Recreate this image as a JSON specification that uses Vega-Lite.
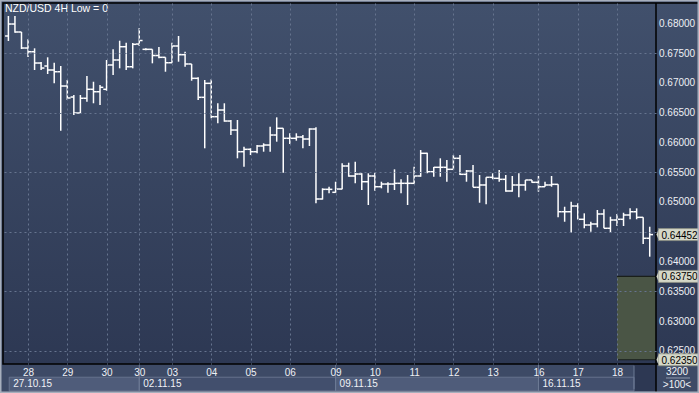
{
  "$schema": "https://vega.github.io/schema/vega-lite/v6.json",
  "width": 653,
  "height": 361,
  "autosize": {"type": "none"},
  "padding": {"left": 3, "top": 3, "right": 43, "bottom": 29},
  "background": "#3d4a66",
  "config": {
    "view": {"stroke": null},
    "axis": {
      "grid": true, "gridColor": "#66748f", "gridDash": [2, 3], "gridWidth": 1,
      "ticks": false, "tickSize": 0, "domain": false,
      "labelColor": "#eef0f5", "labelFont": "Liberation Sans", "labelFontSize": 10,
      "labelPadding": 3, "labelOverlap": false, "labelBound": false, "labelFlush": false,
      "zindex": 1
    },
    "axisX": {"labelAngle": 0},
    "text": {"font": "Liberation Sans"}
  },
  "datasets": {
    "bars": [
      {"i":0,"o":0.67787,"h":0.68123,"l":0.67703,"c":0.67988},
      {"i":1,"o":0.67988,"h":0.68123,"l":0.67842,"c":0.67854},
      {"i":2,"o":0.67854,"h":0.67854,"l":0.67568,"c":0.67585},
      {"i":3,"o":0.67585,"h":0.67731,"l":0.67434,"c":0.67523},
      {"i":4,"o":0.67523,"h":0.67580,"l":0.67216,"c":0.67333},
      {"i":5,"o":0.67333,"h":0.67350,"l":0.67216,"c":0.67249},
      {"i":6,"o":0.67283,"h":0.67429,"l":0.67149,"c":0.67216},
      {"i":7,"o":0.67216,"h":0.67338,"l":0.66992,"c":0.67187},
      {"i":8,"o":0.67187,"h":0.67283,"l":0.66196,"c":0.66947},
      {"i":9,"o":0.66947,"h":0.67048,"l":0.66712,"c":0.66746},
      {"i":10,"o":0.66762,"h":0.66796,"l":0.66460,"c":0.66494},
      {"i":11,"o":0.66494,"h":0.66796,"l":0.66477,"c":0.66741},
      {"i":12,"o":0.66741,"h":0.67115,"l":0.66683,"c":0.66892},
      {"i":13,"o":0.66892,"h":0.67019,"l":0.66657,"c":0.66851},
      {"i":14,"o":0.66851,"h":0.66964,"l":0.66628,"c":0.66925},
      {"i":15,"o":0.66892,"h":0.67384,"l":0.66868,"c":0.67300},
      {"i":16,"o":0.67300,"h":0.67563,"l":0.67132,"c":0.67384},
      {"i":17,"o":0.67384,"h":0.67708,"l":0.67244,"c":0.67607},
      {"i":18,"o":0.67607,"h":0.67674,"l":0.67216,"c":0.67271},
      {"i":19,"o":0.67271,"h":0.67669,"l":0.67244,"c":0.67647},
      {"i":20,"o":0.67652,"h":0.67921,"l":0.67619,"c":0.67711},
      {"i":21,"o":0.67563,"h":0.67580,"l":0.67547,"c":0.67563},
      {"i":22,"o":0.67563,"h":0.67563,"l":0.67328,"c":0.67459},
      {"i":23,"o":0.67459,"h":0.67602,"l":0.67412,"c":0.67429},
      {"i":24,"o":0.67429,"h":0.67429,"l":0.67187,"c":0.67338},
      {"i":25,"o":0.67338,"h":0.67674,"l":0.67338,"c":0.67619},
      {"i":26,"o":0.67619,"h":0.67787,"l":0.67355,"c":0.67473},
      {"i":27,"o":0.67473,"h":0.67523,"l":0.67271,"c":0.67317},
      {"i":28,"o":0.67317,"h":0.67317,"l":0.67036,"c":0.67076},
      {"i":29,"o":0.67076,"h":0.67093,"l":0.66712,"c":0.66757},
      {"i":30,"o":0.66757,"h":0.67048,"l":0.65901,"c":0.66992},
      {"i":31,"o":0.66992,"h":0.67060,"l":0.66405,"c":0.66432},
      {"i":32,"o":0.66432,"h":0.66657,"l":0.66321,"c":0.66544},
      {"i":33,"o":0.66544,"h":0.66657,"l":0.66348,"c":0.66359},
      {"i":34,"o":0.66359,"h":0.66376,"l":0.66124,"c":0.66208},
      {"i":35,"o":0.66208,"h":0.66376,"l":0.65733,"c":0.65844},
      {"i":36,"o":0.65844,"h":0.65928,"l":0.65592,"c":0.65884},
      {"i":37,"o":0.65884,"h":0.65901,"l":0.65788,"c":0.65844},
      {"i":38,"o":0.65844,"h":0.65956,"l":0.65817,"c":0.65940},
      {"i":39,"o":0.65940,"h":0.65985,"l":0.65844,"c":0.65956},
      {"i":40,"o":0.65956,"h":0.66264,"l":0.65844,"c":0.66124},
      {"i":41,"o":0.66124,"h":0.66421,"l":0.66012,"c":0.66237},
      {"i":42,"o":0.66237,"h":0.66237,"l":0.65491,"c":0.66069},
      {"i":43,"o":0.66069,"h":0.66153,"l":0.65973,"c":0.66069},
      {"i":44,"o":0.66069,"h":0.66153,"l":0.66029,"c":0.66091},
      {"i":45,"o":0.66091,"h":0.66124,"l":0.65901,"c":0.66057},
      {"i":46,"o":0.66057,"h":0.66237,"l":0.65940,"c":0.66225},
      {"i":47,"o":0.66225,"h":0.66254,"l":0.64977,"c":0.65050},
      {"i":48,"o":0.65050,"h":0.65229,"l":0.65041,"c":0.65212},
      {"i":49,"o":0.65212,"h":0.65256,"l":0.65145,"c":0.65212},
      {"i":50,"o":0.65162,"h":0.65340,"l":0.65155,"c":0.65217},
      {"i":51,"o":0.65217,"h":0.65649,"l":0.65212,"c":0.65604},
      {"i":52,"o":0.65604,"h":0.65659,"l":0.65424,"c":0.65436},
      {"i":53,"o":0.65436,"h":0.65676,"l":0.65313,"c":0.65469},
      {"i":54,"o":0.65469,"h":0.65481,"l":0.65201,"c":0.65340},
      {"i":55,"o":0.65340,"h":0.65481,"l":0.64949,"c":0.65436},
      {"i":56,"o":0.65436,"h":0.65491,"l":0.65189,"c":0.65256},
      {"i":57,"o":0.65256,"h":0.65340,"l":0.65229,"c":0.65301},
      {"i":58,"o":0.65301,"h":0.65330,"l":0.65155,"c":0.65301},
      {"i":59,"o":0.65301,"h":0.65548,"l":0.65201,"c":0.65313},
      {"i":60,"o":0.65313,"h":0.65380,"l":0.65145,"c":0.65313},
      {"i":61,"o":0.65313,"h":0.65453,"l":0.64949,"c":0.65313},
      {"i":62,"o":0.65313,"h":0.65592,"l":0.65301,"c":0.65436},
      {"i":63,"o":0.65436,"h":0.65872,"l":0.65424,"c":0.65817},
      {"i":64,"o":0.65817,"h":0.65827,"l":0.65481,"c":0.65508},
      {"i":65,"o":0.65508,"h":0.65587,"l":0.65424,"c":0.65582},
      {"i":66,"o":0.65582,"h":0.65733,"l":0.65424,"c":0.65582},
      {"i":67,"o":0.65582,"h":0.65704,"l":0.65340,"c":0.65548},
      {"i":68,"o":0.65548,"h":0.65788,"l":0.65537,"c":0.65733},
      {"i":69,"o":0.65733,"h":0.65788,"l":0.65453,"c":0.65464},
      {"i":70,"o":0.65464,"h":0.65537,"l":0.65340,"c":0.65520},
      {"i":71,"o":0.65520,"h":0.65621,"l":0.65246,"c":0.65246},
      {"i":72,"o":0.65246,"h":0.65453,"l":0.64987,"c":0.65285},
      {"i":73,"o":0.65285,"h":0.65414,"l":0.64961,"c":0.65414},
      {"i":74,"o":0.65414,"h":0.65481,"l":0.65380,"c":0.65397},
      {"i":75,"o":0.65397,"h":0.65537,"l":0.65340,"c":0.65380},
      {"i":76,"o":0.65380,"h":0.65453,"l":0.65172,"c":0.65184},
      {"i":77,"o":0.65184,"h":0.65436,"l":0.65172,"c":0.65285},
      {"i":78,"o":0.65285,"h":0.65481,"l":0.65078,"c":0.65285},
      {"i":79,"o":0.65285,"h":0.65369,"l":0.65189,"c":0.65369},
      {"i":80,"o":0.65369,"h":0.65369,"l":0.65323,"c":0.65330},
      {"i":81,"o":0.65330,"h":0.65436,"l":0.65172,"c":0.65256},
      {"i":82,"o":0.65256,"h":0.65340,"l":0.65256,"c":0.65285},
      {"i":83,"o":0.65285,"h":0.65436,"l":0.65256,"c":0.65296},
      {"i":84,"o":0.65296,"h":0.65296,"l":0.64742,"c":0.64836},
      {"i":85,"o":0.64836,"h":0.64920,"l":0.64668,"c":0.64836},
      {"i":86,"o":0.64836,"h":0.65004,"l":0.64484,"c":0.64932},
      {"i":87,"o":0.64932,"h":0.64977,"l":0.64709,"c":0.64709},
      {"i":88,"o":0.64709,"h":0.64809,"l":0.64558,"c":0.64613},
      {"i":89,"o":0.64613,"h":0.64668,"l":0.64500,"c":0.64630},
      {"i":90,"o":0.64630,"h":0.64865,"l":0.64574,"c":0.64798},
      {"i":91,"o":0.64798,"h":0.64877,"l":0.64558,"c":0.64558},
      {"i":92,"o":0.64558,"h":0.64752,"l":0.64484,"c":0.64697},
      {"i":93,"o":0.64697,"h":0.64798,"l":0.64596,"c":0.64709},
      {"i":94,"o":0.64709,"h":0.64819,"l":0.64596,"c":0.64781},
      {"i":95,"o":0.64781,"h":0.64893,"l":0.64709,"c":0.64836},
      {"i":96,"o":0.64836,"h":0.64893,"l":0.64709,"c":0.64742},
      {"i":97,"o":0.64742,"h":0.64742,"l":0.64294,"c":0.64390},
      {"i":98,"o":0.64390,"h":0.64584,"l":0.64081,"c":0.64452}
    ],
    "levels": [
      {"p": 0.625}, {"p": 0.63}, {"p": 0.635}, {"p": 0.64}, {"p": 0.65},
      {"p": 0.655}, {"p": 0.66}, {"p": 0.665}, {"p": 0.67}, {"p": 0.675}, {"p": 0.68}
    ],
    "zone": [{"start": 93, "top": 0.6375, "bottom": 0.6235}],
    "weeks": [
      {"s": 0.13, "e": 20, "label": "27.10.15"},
      {"s": 20, "e": 50, "label": "02.11.15"},
      {"s": 50, "e": 81, "label": "09.11.15"},
      {"s": 81, "e": 95.6, "label": "16.11.15"}
    ],
    "badges": [{"v": 0.64452}, {"v": 0.6375}, {"v": 0.6235}]
  },
  "layer": [
    {
      "data": {"values": [{}]},
      "mark": {"type": "rect", "fill": {"gradient": "linear", "x1": 0, "y1": 0, "x2": 0, "y2": 1, "stops": [{"offset": 0, "color": "#41506c"}, {"offset": 1, "color": "#2d3853"}]}},
      "encoding": {
        "x": {"datum": -0.825, "type": "quantitative"}, "x2": {"datum": 105.6},
        "y": {"datum": 0.68341, "type": "quantitative"}, "y2": {"datum": 0.62279}
      }
    },
    {
      "data": {"name": "zone"},
      "mark": {"type": "rect", "color": "#4a5545", "opacity": 1},
      "encoding": {
        "x": {"field": "start", "type": "quantitative"}, "x2": {"datum": 98.96},
        "y": {"field": "top", "type": "quantitative"}, "y2": {"field": "bottom"}
      }
    },
    {
      "data": {"name": "zone"},
      "mark": {"type": "rule", "color": "#1a1f1a", "strokeWidth": 1.2},
      "encoding": {
        "x": {"field": "start", "type": "quantitative"}, "x2": {"datum": 98.96},
        "y": {"field": "top", "type": "quantitative"}
      }
    },
    {
      "data": {"name": "zone"},
      "mark": {"type": "rule", "color": "#1a1f1a", "strokeWidth": 1.2},
      "encoding": {
        "x": {"field": "start", "type": "quantitative"}, "x2": {"datum": 98.96},
        "y": {"field": "bottom", "type": "quantitative"}
      }
    },
    {
      "data": {"name": "bars"},
      "mark": {"type": "rule", "color": "#ffffff", "strokeWidth": 1.5},
      "encoding": {
        "x": {
          "field": "i", "type": "quantitative",
          "scale": {"domain": [-0.825, 98.96], "nice": false, "zero": false},
          "axis": {
            "title": null, "zindex": 2, "grid": true,
            "labelOverlap": false, "labelFlush": false, "labelBound": false,
            "values": [3, 9, 15, 20, 25, 31, 37, 43, 50, 56, 62, 68, 74, 81, 87, 93],
            "labelExpr": "['28','29','30','30','03','04','05','06','09','10','11','12','13','16','17','18'][indexof([3,9,15,20,25,31,37,43,50,56,62,68,74,81,87,93], datum.value)]"
          }
        },
        "y": {
          "field": "h", "type": "quantitative",
          "scale": {"domain": [0.62279, 0.68341], "nice": false, "zero": false},
          "axis": {
            "title": null, "orient": "right", "zindex": 2, "grid": true, "labels": false,
            "values": [0.625, 0.63, 0.635, 0.64, 0.645, 0.65, 0.655, 0.66, 0.665, 0.67, 0.675, 0.68]
          }
        },
        "y2": {"field": "l"}
      }
    },
    {
      "data": {"name": "bars"},
      "mark": {"type": "rule", "color": "#ffffff", "strokeWidth": 1.5, "xOffset": -3.3},
      "encoding": {
        "x": {"field": "i", "type": "quantitative"}, "x2": {"field": "i"},
        "y": {"field": "o", "type": "quantitative"}
      }
    },
    {
      "data": {"name": "bars"},
      "mark": {"type": "rule", "color": "#ffffff", "strokeWidth": 1.5, "x2Offset": 3.3},
      "encoding": {
        "x": {"field": "i", "type": "quantitative"}, "x2": {"field": "i"},
        "y": {"field": "c", "type": "quantitative"}
      }
    },
    {
      "data": {"name": "levels"},
      "mark": {"type": "text", "align": "left", "baseline": "middle", "dx": 3, "dy": 0.5, "fontSize": 10, "color": "#eef0f5"},
      "encoding": {
        "x": {"datum": 98.96, "type": "quantitative"},
        "y": {"field": "p", "type": "quantitative"},
        "text": {"field": "p", "type": "quantitative", "format": ".5f"}
      }
    },
    {
      "data": {"values": [{}]},
      "mark": {"type": "rect", "color": "#2d3853"},
      "encoding": {
        "x": {"datum": 95.6, "type": "quantitative"}, "x2": {"datum": 98.96},
        "y": {"datum": 0.62279, "type": "quantitative"}, "y2": {"datum": 0.61826}
      }
    },
    {
      "data": {"name": "weeks"},
      "mark": {"type": "rect", "stroke": "#66728e", "strokeWidth": 1},
      "encoding": {
        "x": {"field": "s", "type": "quantitative"}, "x2": {"field": "e"},
        "y": {"datum": 0.62057, "type": "quantitative"}, "y2": {"datum": 0.61826},
        "color": {"field": "label", "type": "nominal", "legend": null,
          "scale": {"domain": ["27.10.15", "02.11.15", "09.11.15", "16.11.15"], "range": ["#4f5c7a", "#424f6d", "#4f5c7a", "#424f6d"]}}
      }
    },
    {
      "data": {"name": "weeks"},
      "transform": [{"filter": "datum.s > 1"}],
      "mark": {"type": "rule", "color": "#6d7a95", "strokeWidth": 1},
      "encoding": {
        "x": {"field": "s", "type": "quantitative"},
        "y": {"datum": 0.62279, "type": "quantitative"}, "y2": {"datum": 0.61826}
      }
    },
    {
      "data": {"values": [{}]},
      "mark": {"type": "rule", "color": "#6d7a95", "strokeWidth": 1},
      "encoding": {
        "x": {"datum": 95.6, "type": "quantitative"},
        "y": {"datum": 0.62252, "type": "quantitative"}, "y2": {"datum": 0.61860}
      }
    },
    {
      "data": {"name": "weeks"},
      "mark": {"type": "text", "align": "left", "baseline": "alphabetic", "dx": 4, "fontSize": 10, "color": "#f0f2f6"},
      "encoding": {
        "x": {"field": "s", "type": "quantitative"},
        "y": {"datum": 0.61888, "type": "quantitative"},
        "text": {"field": "label"}
      }
    },
    {
      "data": {"values": [{}]},
      "mark": {"type": "text", "text": "3200", "align": "center", "baseline": "alphabetic", "fontSize": 10, "color": "#f0f2f6"},
      "encoding": {
        "x": {"datum": 102.17, "type": "quantitative"},
        "y": {"datum": 0.62094, "type": "quantitative"}
      }
    },
    {
      "data": {"values": [{}]},
      "mark": {"type": "text", "text": ">100<", "align": "center", "baseline": "alphabetic", "fontSize": 10, "color": "#f0f2f6"},
      "encoding": {
        "x": {"datum": 102.17, "type": "quantitative"},
        "y": {"datum": 0.61881, "type": "quantitative"}
      }
    },
    {
      "data": {"values": [{}]},
      "mark": {"type": "rule", "color": "#8f99ad", "strokeWidth": 1},
      "encoding": {
        "x": {"datum": 100.49, "type": "quantitative"}, "x2": {"datum": 104.16},
        "y": {"datum": 0.62044, "type": "quantitative"}
      }
    },
    {
      "data": {"values": [{}]},
      "mark": {"type": "rect", "fill": "transparent", "stroke": "#000000", "strokeWidth": 1.5},
      "encoding": {
        "x": {"datum": -0.825, "type": "quantitative"}, "x2": {"datum": 105.6},
        "y": {"datum": 0.68341, "type": "quantitative"}, "y2": {"datum": 0.62279}
      }
    },
    {
      "data": {"values": [{}]},
      "mark": {"type": "rule", "color": "#000000", "strokeWidth": 1.5},
      "encoding": {
        "x": {"datum": 98.96, "type": "quantitative"},
        "y": {"datum": 0.68341, "type": "quantitative"}, "y2": {"datum": 0.61792}
      }
    },
    {
      "data": {"name": "badges"},
      "mark": {"type": "rect", "fill": "#d5d8c8", "stroke": "#8c8f82", "strokeWidth": 0.8, "yOffset": -6, "y2Offset": 6},
      "encoding": {
        "x": {"datum": 99.34, "type": "quantitative"}, "x2": {"datum": 105.6},
        "y": {"field": "v", "type": "quantitative"}, "y2": {"field": "v"}
      }
    },
    {
      "data": {"name": "badges"},
      "mark": {"type": "point", "shape": "M-1,0L1,-5L1,5Z", "size": 4, "filled": true, "color": "#d5d8c8", "opacity": 1},
      "encoding": {
        "x": {"datum": 99.19, "type": "quantitative"},
        "y": {"field": "v", "type": "quantitative"}
      }
    },
    {
      "data": {"name": "badges"},
      "mark": {"type": "text", "align": "left", "baseline": "middle", "dx": 3, "dy": 1, "fontSize": 10, "color": "#000000"},
      "encoding": {
        "x": {"datum": 99.34, "type": "quantitative"},
        "y": {"field": "v", "type": "quantitative"},
        "text": {"field": "v", "type": "quantitative", "format": ".5f"}
      }
    },
    {
      "data": {"values": [{"t": "NZD/USD 4H Low = 0"}]},
      "mark": {"type": "text", "align": "left", "baseline": "top", "dx": 2, "dy": 1, "fontSize": 10.5, "color": "#ffffff"},
      "encoding": {
        "x": {"datum": -0.825, "type": "quantitative"},
        "y": {"datum": 0.68341, "type": "quantitative"},
        "text": {"field": "t"}
      }
    },
    {
      "data": {"values": [{}]},
      "mark": {"type": "rect", "fill": "transparent", "stroke": "#a7afbd", "strokeWidth": 3},
      "encoding": {
        "x": {"datum": -1.2834, "type": "quantitative"}, "x2": {"datum": 105.53},
        "y": {"datum": 0.683914, "type": "quantitative"}, "y2": {"datum": 0.617921}
      }
    }
  ]
}
